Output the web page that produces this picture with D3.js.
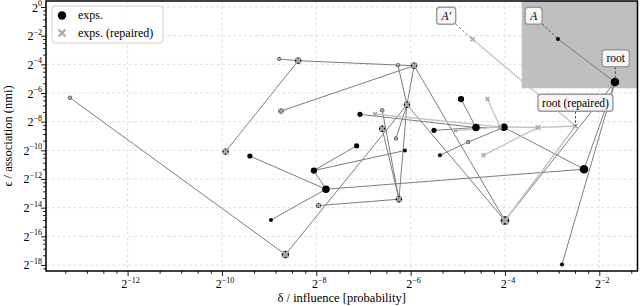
<!DOCTYPE html>
<html><head><meta charset="utf-8">
<script src="https://cdn.jsdelivr.net/npm/d3@7"></script>
<style>
body{margin:0;background:#fff;}
svg text, svg tspan{font-family:'Liberation Serif','Times New Roman','DejaVu Serif',serif !important;}
</style></head><body>
<svg id="c" width="640" height="306"></svg>
<script>
// ---------------- data (log2 values) ----------------
const nodeId    = ["root","A","e3","e4","e5","e6","e7","e8","e9","e10","e11","e12","e13","e14","e15","e16",
                   "a","b","c","d","e","f","g","h","i","j","k","l","m","n","o","p",
                   "Ar","rootR","r1","r2","r3","r4","r5","r6"];
const nodeDelta = [-1.667,-2.876,-4.614,-4.021,-4.932,-5.505,-7.074,-7.144,-6.120,-5.378,-2.324,-2.791,-9.407,-8.050,-7.795,-8.961,
                   -13.223,-9.922,-8.785,-8.383,-8.749,-6.268,-5.925,-6.078,-6.601,-6.603,-6.311,-7.954,-6.247,-4.000,-8.654,-4.778,
                   -4.685,-2.505,-4.371,-6.756,-3.300,-4.455,-4.106,-5.051];
const nodeEps   = [-5.234,-2.233,-8.409,-8.395,-6.420,-8.604,-7.488,-9.679,-10.014,-10.342,-11.319,-17.969,-10.398,-11.410,-12.714,-14.864,
                   -6.329,-10.084,-3.629,-3.747,-7.258,-4.061,-4.096,-6.818,-7.202,-8.493,-9.177,-13.852,-13.412,-14.899,-17.271,-9.421,
                   -2.254,-8.304,-6.420,-7.467,-8.409,-10.349,-8.360,-8.632];
const nodeWeight= [5,1,4,4,3,2,2,2,1,1,5,1,2,3,4,1,
                   1,3,1,3,2,1,3,3,1,3,1,2,3,5,4,1,
                   2,3,2,2,3,2,2,1];
// kind: exp = original only, both = original + repaired at same place, rep = repaired only
const nodeKind  = ["exp","exp","exp","exp","exp","exp","exp","exp","exp","exp","exp","exp","exp","exp","exp","exp",
                   "both","both","both","both","both","both","both","both","both","both","both","both","both","both","both","both",
                   "rep","rep","rep","rep","rep","rep","rep","rep"];

const expEdgeFrom = ["A","e11","e12","n","e3","e4","e5","e6","e7","e10","p","e15","e13","e14","e16","e8","e9",
                     "l","i","j","h","k","f","g","h","g","o","a","b","c","d","e"];
const expEdgeTo   = ["root","root","root","root","e4","e11","e3","e3","e3","p","e4","e11","e15","e15","e15","e14","e14",
                     "m","m","m","m","h","h","h","n","n","h","o","d","d","g","g"];
const repEdgeFrom = ["Ar","rootR","r1","r2","r6","r5","r4","r3"];
const repEdgeTo   = ["rootR","n","r5","r5","r5","r3","r3","rootR"];

const labelText   = ["A","A′","root","root (repaired)"];
const labelTarget = ["A","Ar","root","rootR"];
const labelDelta  = [-3.391,-5.246,-1.652,-2.505];
const labelEps    = [-0.607,-0.607,-3.58,-6.685];

const regionDelta = [-3.645,-1.19];
const regionEps   = [-5.67,0.42];

const xMajor = [-12,-10,-8,-6,-4,-2];
const yMajor = [0,-2,-4,-6,-8,-10,-12,-14,-16,-18];
const minorSubs = [1.6,2.2,2.8,3.4];

const legendText = ["exps.","exps. (repaired)"];
const xLabel = "δ / influence [probability]";
const yLabel = "ϵ / association (nmi)";

// ---------------- chart ----------------
const FONT = "'Liberation Serif','Times New Roman','DejaVu Serif',serif";
const svg = d3.select("#c");
const L=46,R=637.5,T=1,B=271;
const x = d3.scaleLog().base(2).domain([2**-13.73,2**-1.19]).range([L,R]);
const y = d3.scaleLog().base(2).domain([2**-18.42,2**0.42]).range([B,T]);
const rad = d3.scaleLinear().domain([1,5]).range([2,4.3]);

const nodes = new Map();
nodeId.forEach((id,i)=>nodes.set(id,{id,dx:2**nodeDelta[i],ey:2**nodeEps[i],w:nodeWeight[i],k:nodeKind[i]}));
const px = n=>x(n.dx), py = n=>y(n.ey);

function minors(sc){
  const [a,b]=sc.domain(); const out=[];
  for(let m=-20;m<=2;m+=2) minorSubs.forEach(s=>{const v=2**m*s; if(v>a&&v<b) out.push(v);});
  return out;
}
function txt(g){ return g.append("text").style("font-family",FONT).attr("fill","#000"); }

// grid
const g0 = svg.append("g");
xMajor.forEach(e=>g0.append("line").attr("x1",x(2**e)).attr("x2",x(2**e)).attr("y1",T).attr("y2",B)
  .attr("stroke","#d9d9d9").attr("stroke-width",0.8).attr("stroke-dasharray","3,2.5"));
yMajor.forEach(e=>g0.append("line").attr("y1",y(2**e)).attr("y2",y(2**e)).attr("x1",L).attr("x2",R)
  .attr("stroke","#d9d9d9").attr("stroke-width",0.8).attr("stroke-dasharray","3,2.5"));

// region
svg.append("rect").attr("x",x(2**regionDelta[0])).attr("y",y(2**regionEps[1]))
  .attr("width",x(2**regionDelta[1])-x(2**regionDelta[0])).attr("height",y(2**regionEps[0])-y(2**regionEps[1]))
  .attr("fill","#bfbfbf");

// edges
const ge = svg.append("g");
expEdgeFrom.forEach((f,i)=>{const a=nodes.get(f),b=nodes.get(expEdgeTo[i]);
  ge.append("line").attr("x1",px(a)).attr("y1",py(a)).attr("x2",px(b)).attr("y2",py(b))
    .attr("stroke","#7d7d7d").attr("stroke-width",1);});
repEdgeFrom.forEach((f,i)=>{const a=nodes.get(f),b=nodes.get(repEdgeTo[i]);
  ge.append("line").attr("x1",px(a)).attr("y1",py(a)).attr("x2",px(b)).attr("y2",py(b))
    .attr("stroke","#c4c4c4").attr("stroke-width",1.4);});

// label connectors + boxes
const gl = svg.append("g");
const lblBoxes=[];
labelText.forEach((t,i)=>{
  const cx=x(2**labelDelta[i]), cy=y(2**labelEps[i]);
  const tx = txt(gl).attr("x",cx).attr("y",cy+3.8).attr("text-anchor","middle").attr("font-size",11.5)
    .attr("font-style", t.startsWith("A")?"italic":"normal").text(t);
  const bb = tx.node().getBBox();
  lblBoxes.push({tx,bb,cx,cy,i});
});
lblBoxes.forEach(({tx,bb,cx,cy,i})=>{
  const n=nodes.get(labelTarget[i]);
  const w=bb.width+8,h=17;
  const light = labelTarget[i]==="Ar";
  const dx=px(n)-cx, dy=py(n)-cy;
  const tx_=Math.abs(dx)>0?(w/2)/Math.abs(dx):Infinity, ty_=Math.abs(dy)>0?(h/2)/Math.abs(dy):Infinity;
  const tt=Math.min(tx_,ty_); const sx=cx+dx*tt, sy=cy+dy*tt;
  gl.insert("line",":first-child").attr("x1",sx).attr("y1",sy).attr("x2",px(n)).attr("y2",py(n))
    .attr("stroke",light?"#777":"#444").attr("stroke-width",1).attr("stroke-dasharray","2.5,2");
  gl.insert("rect","text").attr("x",cx-w/2).attr("y",cy-h/2).attr("width",w).attr("height",h).attr("rx",3)
    .attr("fill","#f6f6f6").attr("stroke","#9a9a9a").attr("stroke-width",1.4);
});

// markers
const gm = svg.append("g");
const all=[...nodes.values()];
all.filter(n=>n.k!=="rep").forEach(n=>gm.append("circle").attr("cx",px(n)).attr("cy",py(n)).attr("r",rad(n.w)).attr("fill","#000"));
function xmark(g,cx,cy,s,col,sw){
  g.append("path").attr("d",`M${cx-s},${cy-s}L${cx+s},${cy+s}M${cx-s},${cy+s}L${cx+s},${cy-s}`)
   .attr("stroke",col).attr("stroke-width",sw).attr("fill","none");
}
all.filter(n=>n.k==="both").forEach(n=>{const r=rad(n.w); xmark(gm,px(n),py(n),r*0.8,"#a8a8a8",r*0.75);});
all.filter(n=>n.k==="rep").forEach(n=>{const r=rad(n.w); xmark(gm,px(n),py(n),r*0.75,"#a8a8a8",1.5);});

svg.node().appendChild(gl.node());

// axes
const gx = svg.append("g").attr("transform",`translate(0,${B})`);
gx.call(d3.axisBottom(x).tickValues(minors(x)).tickSize(2.8).tickFormat(""));
const gx2 = svg.append("g").attr("transform",`translate(0,${B})`);
gx2.call(d3.axisBottom(x).tickValues(xMajor.map(e=>2**e)).tickSize(5).tickFormat(""));
const gy = svg.append("g").attr("transform",`translate(${L},0)`);
gy.call(d3.axisLeft(y).tickValues(minors(y)).tickSize(2.8).tickFormat(""));
const gy2 = svg.append("g").attr("transform",`translate(${L},0)`);
gy2.call(d3.axisLeft(y).tickValues(yMajor.map(e=>2**e)).tickSize(5).tickFormat(""));
[gx,gx2,gy,gy2].forEach(g=>{g.select(".domain").remove(); g.selectAll("text").remove(); g.selectAll("line").attr("stroke","#000").attr("stroke-width",0.9);});

function supLabel(g,xp,yp,e,anchor){
  const t=txt(g).attr("x",xp).attr("y",yp).attr("text-anchor",anchor).attr("font-size",12);
  t.append("tspan").text("2");
  t.append("tspan").attr("dy",-5.5).attr("font-size",8).text(e===0?"0":"−"+(-e));
}
xMajor.forEach(e=>supLabel(svg,x(2**e)+3,288,e,"middle"));
yMajor.forEach(e=>supLabel(svg,42,y(2**e)+4.5,e,"end"));

txt(svg).attr("x",(L+R)/2).attr("y",302).attr("text-anchor","middle").attr("font-size",12.5).text(xLabel);
txt(svg).attr("transform",`translate(12,${(T+B)/2}) rotate(-90)`).attr("text-anchor","middle").attr("font-size",12.5).text(yLabel);

// frame
svg.append("rect").attr("x",L).attr("y",T).attr("width",R-L).attr("height",B-T).attr("fill","none").attr("stroke","#000").attr("stroke-width",1.5);

// legend
const lg = svg.append("g");
lg.append("rect").attr("x",52).attr("y",6).attr("width",111).attr("height",37).attr("rx",3)
  .attr("fill","#fff").attr("fill-opacity",0.85).attr("stroke","#cfcfcf").attr("stroke-width",1);
lg.append("circle").attr("cx",62).attr("cy",15.5).attr("r",4.2).attr("fill","#000");
xmark(lg,62,33,3.5,"#a8a8a8",2);
txt(lg).attr("x",78).attr("y",19).attr("font-size",12).text(legendText[0]);
txt(lg).attr("x",78).attr("y",37).attr("font-size",12).text(legendText[1]);
</script>
</body></html>
